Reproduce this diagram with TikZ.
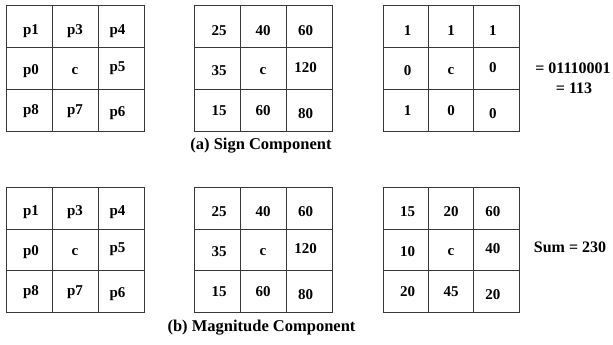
\documentclass[tikz,border=0pt]{standalone}
\usepackage{fontspec}
\setmainfont{Liberation Serif}
\tikzset{
  gridline/.style={draw=black!78, line width=1pt},
  celltext/.style={font=\fontsize{15}{18}\selectfont\bfseries, inner sep=0pt},
  sidetext/.style={font=\fontsize{16}{19}\selectfont\bfseries, inner sep=0pt},
  captiontext/.style={font=\fontsize{16.5}{19}\selectfont\bfseries, inner sep=0pt}
}
% per-cell nudges of the entries inside a 3x3 window
\def\dxlist{{2,0,-3.5}}
\def\dylist{{4,4,4,2.5,2.5,-0.5,0.8,0.8,3.5}}
% #1 name, #2 left, #3 top, #4 width, #5 nine entries (row by row)
\newcommand\cellgrid[5]{%
  \draw[gridline] (#2,#3) rectangle ++(#4,125);
  \draw[gridline] ({#2+#4/3},#3) -- ++(0,125);
  \draw[gridline] ({#2+2*#4/3},#3) -- ++(0,125);
  \draw[gridline] (#2,#3+42) -- ++(#4,0);
  \draw[gridline] (#2,#3+83.5) -- ++(#4,0);
  \foreach \t [count=\i from 0] in {#5} {
    \pgfmathtruncatemacro\cc{mod(\i,3)}
    \pgfmathtruncatemacro\rr{div(\i,3)}
    \pgfmathsetmacro\px{#2+#4/6+\cc*#4/3+\dxlist[\cc]}
    \pgfmathsetmacro\py{#3+20.8+\rr*41.6+\dylist[\i]}
    \node[celltext] (#1-\i) at (\px,\py) {\t};
  }%
}
\begin{document}
\begin{tikzpicture}[x=1pt,y=-1pt]
\useasboundingbox (0,0) rectangle (613,345);
% (a) sign component
\cellgrid{sa}{6}{6}{138}{p1,p3,p4,p0,c,p5,p8,p7,p6}
\cellgrid{sb}{194}{6}{138}{25,40,60,35,c,120,15,60,80}
\cellgrid{sc}{383}{6}{136}{1,1,1,0,c,0,1,0,0}
\node[sidetext] (code) at (573,68.5) {= 01110001};
\node[sidetext] (codeval) at (574,88) {= 113};
\node[captiontext] (capa) at (261,146) {(a) Sign Component};
% (b) magnitude component
\cellgrid{ma}{6}{187}{138}{p1,p3,p4,p0,c,p5,p8,p7,p6}
\cellgrid{mb}{194}{187}{138}{25,40,60,35,c,120,15,60,80}
\cellgrid{mc}{383}{187}{136}{15,20,60,10,c,40,20,45,20}
\node[sidetext] (sum) at (570,247) {Sum = 230};
\node[captiontext] (capb) at (261.5,328) {(b) Magnitude Component};
\end{tikzpicture}
\end{document}
